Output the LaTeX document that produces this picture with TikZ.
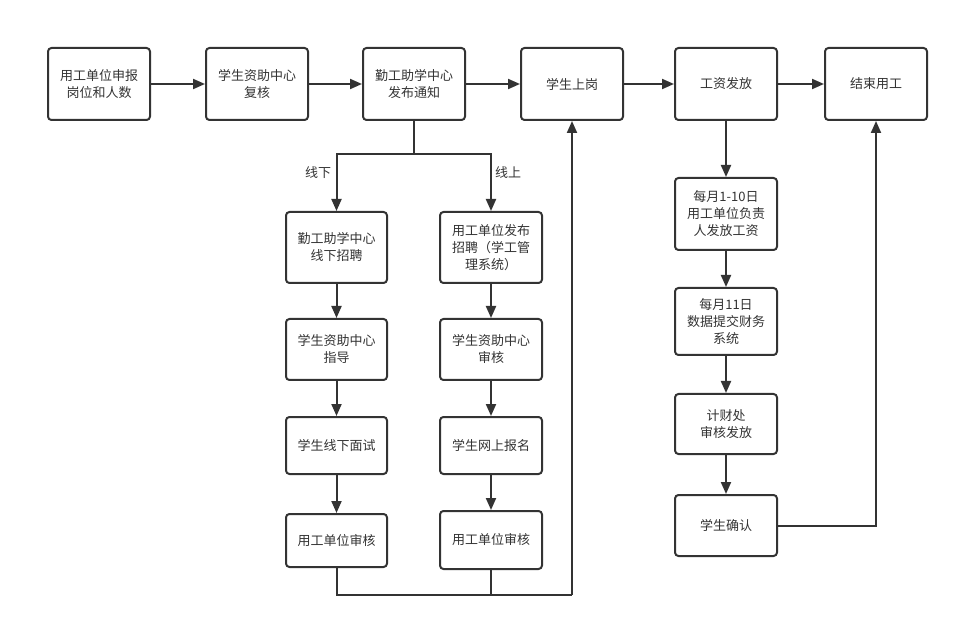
\documentclass[tikz,border=0pt]{standalone}
\usepackage{fontspec}
\setmainfont[Kerning=Off,RawFeature={-chws}]{Noto Sans CJK SC}
\usetikzlibrary{arrows.meta}
\definecolor{ln}{HTML}{333333}
\definecolor{tx}{HTML}{333333}
\begin{document}
\begin{tikzpicture}[x=1pt,y=-1pt,
  box/.style={draw=ln,line width=2pt,rounded corners=3.5pt,fill=white,text=tx,
    align=center,font=\fontsize{13}{17}\selectfont,inner sep=0pt},
  conn/.style={draw=ln,line width=2pt},
  arr/.style={conn,-{Triangle[length=12pt,width=10pt]}},
  lbl/.style={text=tx,font=\fontsize{13}{17}\selectfont}]
\useasboundingbox (0,0) rectangle (959,628);
\newcommand{\bx}[6]{\node[box,minimum width=#4,minimum height=#5] (#1) at (#2,#3) {#6};}
% top row
\bx{a}{99}{84}{102}{72}{用工单位申报\\岗位和人数}
\bx{b}{257}{84}{102}{72}{学生资助中心\\复核}
\bx{c}{414}{84}{102}{72}{勤工助学中心\\发布通知}
\bx{d}{572}{84}{102}{72}{学生上岗}
\bx{e}{726}{84}{102}{72}{工资发放}
\bx{f}{876}{84}{102}{72}{结束用工}
% left column
\bx{l1}{336.5}{247.5}{101}{71}{勤工助学中心\\线下招聘}
\bx{l2}{336.5}{349.5}{101}{61}{学生资助中心\\指导}
\bx{l3}{336.5}{445.5}{101}{57}{学生线下面试}
\bx{l4}{336.5}{540.5}{101}{53}{用工单位审核}
% right column
\bx{r1}{491}{247.5}{102}{71}{用工单位发布\\招聘（学工管\\理系统）}
\bx{r2}{491}{349.5}{102}{61}{学生资助中心\\审核}
\bx{r3}{491}{445.5}{102}{57}{学生网上报名}
\bx{r4}{491}{540}{102}{58}{用工单位审核}
% pay column
\bx{p1}{726}{214}{102}{72}{每月1-10日\\用工单位负责\\人发放工资}
\bx{p2}{726}{321.5}{102}{67}{每月11日\\数据提交财务\\系统}
\bx{p3}{726}{424}{102}{60}{计财处\\审核发放}
\bx{p4}{726}{525.5}{102}{61}{学生确认}
% top arrows
\draw[arr] (a) -- (b);
\draw[arr] (b) -- (c);
\draw[arr] (c) -- (d);
\draw[arr] (d) -- (e);
\draw[arr] (e) -- (f);
% branch
\coordinate (br) at (414,154);
\draw[conn] (c.south) -- (br);
\draw[arr] (br) -| (l1.north);
\draw[arr] (br) -| (r1.north);
\node[lbl] (t1) at (318,173) {线下};
\node[lbl] (t2) at (508,173) {线上};
\draw[arr] (l1) -- (l2);
\draw[arr] (l2) -- (l3);
\draw[arr] (l3) -- (l4);
\draw[arr] (r1) -- (r2);
\draw[arr] (r2) -- (r3);
\draw[arr] (r3) -- (r4);
\coordinate (bot) at (572,595);
\draw[conn] (l4.south) |- (bot);
\draw[conn] (r4.south) -- (r4.south |- bot);
\draw[arr] (bot) -- (d.south);
% pay
\draw[arr] (e) -- (p1);
\draw[arr] (p1) -- (p2);
\draw[arr] (p2) -- (p3);
\draw[arr] (p3) -- (p4);
\draw[arr] (p4.east) -| (f.south);
\end{tikzpicture}
\end{document}
